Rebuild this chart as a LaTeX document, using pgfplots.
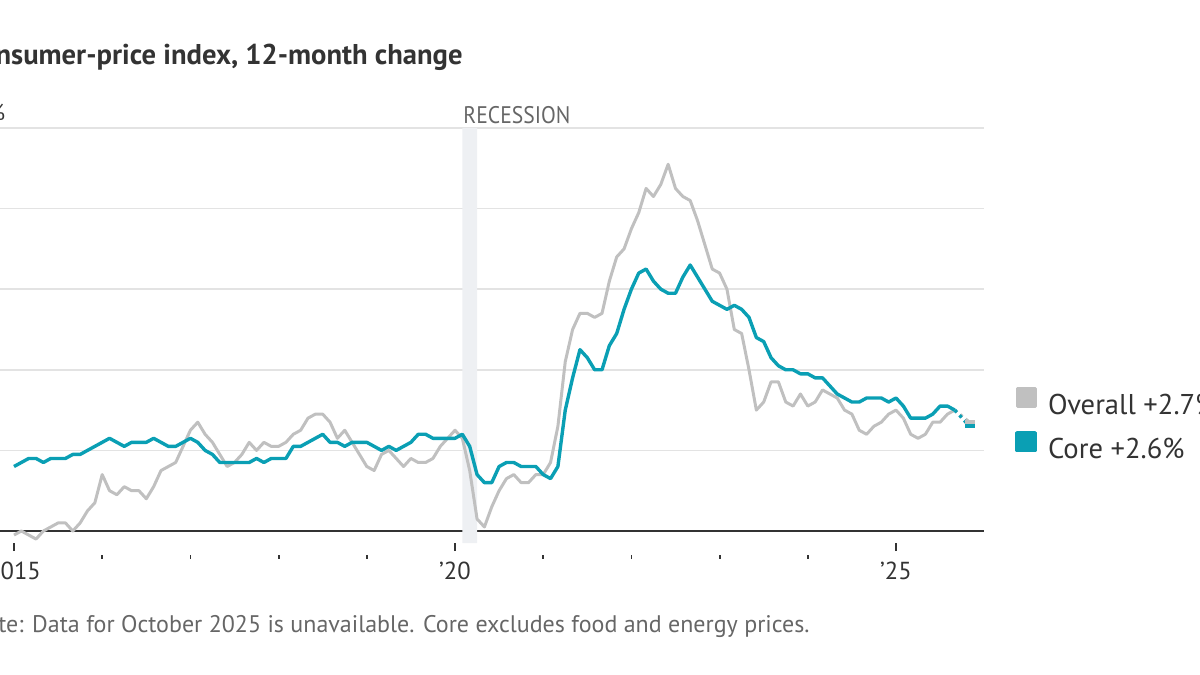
\documentclass[border=0pt]{standalone}
\usepackage{fontspec}
\setmainfont{PT Sans}
\usepackage{graphicx}
\usepackage{pgfplots}
\usepackage{pgfplotstable}
\pgfplotsset{compat=1.18}

\definecolor{coreteal}{HTML}{0A9FB4}
\definecolor{allgray}{HTML}{C0C0C0}
\definecolor{gridgray}{HTML}{E3E3E3}
\definecolor{recess}{HTML}{EEF0F3}
\definecolor{txtdark}{HTML}{333333}
\definecolor{txtgray}{HTML}{666666}

% month index: 0 = Jan 2015; Oct 2025 (129) unavailable
\pgfplotstableread{
m overall core
0 -0.1 1.6
1 0.0 1.7
2 -0.1 1.8
3 -0.2 1.8
4 0.0 1.7
5 0.1 1.8
6 0.2 1.8
7 0.2 1.8
8 0.0 1.9
9 0.2 1.9
10 0.5 2.0
11 0.7 2.1
12 1.4 2.2
13 1.0 2.3
14 0.9 2.2
15 1.1 2.1
16 1.0 2.2
17 1.0 2.2
18 0.8 2.2
19 1.1 2.3
20 1.5 2.2
21 1.6 2.1
22 1.7 2.1
23 2.1 2.2
24 2.5 2.3
25 2.7 2.2
26 2.4 2.0
27 2.2 1.9
28 1.9 1.7
29 1.6 1.7
30 1.7 1.7
31 1.9 1.7
32 2.2 1.7
33 2.0 1.8
34 2.2 1.7
35 2.1 1.8
36 2.1 1.8
37 2.2 1.8
38 2.4 2.1
39 2.5 2.1
40 2.8 2.2
41 2.9 2.3
42 2.9 2.4
43 2.7 2.2
44 2.3 2.2
45 2.5 2.1
46 2.2 2.2
47 1.9 2.2
48 1.6 2.2
49 1.5 2.1
50 1.9 2.0
51 2.0 2.1
52 1.8 2.0
53 1.6 2.1
54 1.8 2.2
55 1.7 2.4
56 1.7 2.4
57 1.8 2.3
58 2.1 2.3
59 2.3 2.3
60 2.5 2.3
61 2.3 2.4
62 1.5 2.1
63 0.3 1.4
64 0.1 1.2
65 0.6 1.2
66 1.0 1.6
67 1.3 1.7
68 1.4 1.7
69 1.2 1.6
70 1.2 1.6
71 1.4 1.6
72 1.4 1.4
73 1.7 1.3
74 2.6 1.6
75 4.2 3.0
76 5.0 3.8
77 5.4 4.5
78 5.4 4.3
79 5.3 4.0
80 5.4 4.0
81 6.2 4.6
82 6.8 4.9
83 7.0 5.5
84 7.5 6.0
85 7.9 6.4
86 8.5 6.5
87 8.3 6.2
88 8.6 6.0
89 9.1 5.9
90 8.5 5.9
91 8.3 6.3
92 8.2 6.6
93 7.7 6.3
94 7.1 6.0
95 6.5 5.7
96 6.4 5.6
97 6.0 5.5
98 5.0 5.6
99 4.9 5.5
100 4.0 5.3
101 3.0 4.8
102 3.2 4.7
103 3.7 4.3
104 3.7 4.1
105 3.2 4.0
106 3.1 4.0
107 3.4 3.9
108 3.1 3.9
109 3.2 3.8
110 3.5 3.8
111 3.4 3.6
112 3.3 3.4
113 3.0 3.3
114 2.9 3.2
115 2.5 3.2
116 2.4 3.3
117 2.6 3.3
118 2.7 3.3
119 2.9 3.2
120 3.0 3.3
121 2.8 3.1
122 2.4 2.8
123 2.3 2.8
124 2.4 2.8
125 2.7 2.9
126 2.7 3.1
127 2.9 3.1
128 3.0 3.0
}\cpidata

\pgfplotstableread{
m overall core
128 3.0 3.0
130 2.7 2.6
}\cpigap

\begin{document}
\begin{tikzpicture}
\useasboundingbox (0,0) rectangle (600pt,337.5pt);
\clip (0,0) rectangle (600pt,337.5pt);
\begin{axis}[
  at={(-15.05pt,72pt)}, anchor=south west,
  scale only axis,
  width=507.15pt, height=201.5pt,
  xmin=-6, xmax=132, ymin=0, ymax=10,
  clip=false,
  axis x line*=bottom,
  axis y line*=left,
  y axis line style={draw=none},
  x axis line style={draw=txtdark, line width=1pt, -},
  ymajorgrids,
  grid style={gridgray, line width=0.8pt},
  ytick={0,2,4,6,8,10},
  yticklabels={0,2,4,6,8,10\rlap{\%}},
  ytick style={draw=none},
  yticklabel style={anchor=south east, inner sep=0pt, xshift=13pt, yshift=3.5pt,
    font=\fontsize{11.5}{13}\selectfont, text=txtdark},
  xtick={0,60,120},
  xticklabels={2015,’20,’25},
  minor xtick={12,24,36,48,72,84,96,108},
  tick align=outside,
  major tick length=4pt,
  minor tick length=2pt,
  xtick style={draw=txtdark, line width=0.9pt, yshift=-6pt},
  minor x tick style={draw=txtdark, line width=0.9pt, yshift=-6pt},
  xticklabel style={anchor=north, inner sep=0pt, yshift=-11.5pt,
    font=\fontsize{12.3}{14}\selectfont, text=txtdark},
  legend style={at={(axis description cs:1.0304,0.3575)}, anchor=north west,
    draw=none, fill=none, inner sep=0pt, row sep=5pt,
    font=\fontsize{14.3}{17}\selectfont,
    nodes={inner sep=0pt, text height=10.5pt, text depth=3pt, text=txtdark}},
  legend cell align=left,
  legend image code/.code={
    \fill[#1] (0pt,0.3pt) rectangle (9pt,9.3pt);
    \path[draw=none, fill=none] (0pt,0pt) -- (15.5pt,0pt);
  },
]
\addplot[fill=recess, draw=none, forget plot] coordinates
  {(61,-0.3) (63,-0.3) (63,10) (61,10)} \closedcycle;
\addplot[color=allgray, line width=1.5pt, line join=round] table[x=m, y=overall] {\cpidata};
\addlegendentry{Overall +2.7\%}
\addplot[color=coreteal, line width=1.7pt, line join=round] table[x=m, y=core] {\cpidata};
\addlegendentry{Core +2.6\%}
\addplot[color=allgray, line width=1.5pt, dash pattern=on 1.5pt off 2pt, forget plot,
  mark=-, mark indices={2}, mark size=2.5pt, mark options={solid, line width=2pt}]
  table[x=m, y=overall] {\cpigap};
\addplot[color=coreteal, line width=1.7pt, dash pattern=on 1.5pt off 2pt, forget plot,
  mark=-, mark indices={2}, mark size=2.5pt, mark options={solid, line width=2pt}]
  table[x=m, y=core] {\cpigap};
\node[anchor=base west, inner sep=0pt, text=txtgray, font=\fontsize{12}{14}\selectfont]
  at (axis cs:61.1,10.1) {\scalebox{0.9}[1]{RECESSION}};
\end{axis}
\node[anchor=base east, inner sep=0pt, text=txtdark, font=\fontsize{14.3}{16}\selectfont\bfseries]
  at (231.5pt,305pt) {Consumer-price index, 12-month change};
\node[anchor=base east, inner sep=0pt, text=txtgray, font=\fontsize{12}{14}\selectfont]
  at (405pt,21pt) {Note: Data for October 2025 is unavailable. Core excludes food and energy prices.};
\end{tikzpicture}
\end{document}
